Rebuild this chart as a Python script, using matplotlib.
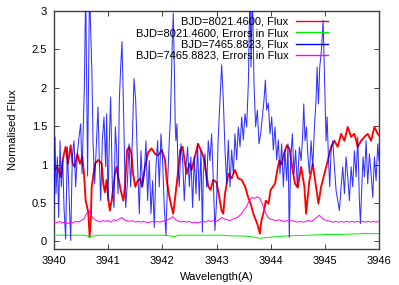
import matplotlib
matplotlib.use("Agg")
import matplotlib.pyplot as plt

# ---------------- data ----------------
red_wl = [3940.000, 3940.062, 3940.123, 3940.172, 3940.215, 3940.258, 3940.308, 3940.345,
          3940.382, 3940.431, 3940.480, 3940.523, 3940.554, 3940.585, 3940.615, 3940.634,
          3940.658, 3940.680, 3940.696, 3940.757, 3940.818, 3940.880, 3940.910, 3940.940,
          3940.970, 3941.000, 3941.030, 3941.065, 3941.095, 3941.126, 3941.157, 3941.187,
          3941.230, 3941.280, 3941.310, 3941.350, 3941.390, 3941.430, 3941.460, 3941.500,
          3941.530, 3941.590, 3941.620, 3941.680, 3941.740, 3941.800, 3941.865, 3941.925,
          3941.990, 3942.050, 3942.080, 3942.130, 3942.170, 3942.200, 3942.230, 3942.280,
          3942.330, 3942.375, 3942.420, 3942.450, 3942.500, 3942.540, 3942.600, 3942.660,
          3942.710, 3942.760, 3942.810, 3942.850, 3942.890, 3942.940, 3943.000, 3943.050,
          3943.095, 3943.125, 3943.157, 3943.220, 3943.280, 3943.340, 3943.400, 3943.465,
          3943.530, 3943.590, 3943.630, 3943.680, 3943.730, 3943.770, 3943.800, 3943.830,
          3943.877, 3943.910, 3943.960, 3944.000, 3944.040, 3944.080, 3944.120, 3944.160,
          3944.200, 3944.250, 3944.300, 3944.350, 3944.400, 3944.450, 3944.500, 3944.562,
          3944.623, 3944.654, 3944.715, 3944.777, 3944.838, 3944.882, 3944.931, 3944.992,
          3945.054, 3945.115, 3945.177, 3945.238, 3945.300, 3945.362, 3945.423, 3945.485,
          3945.546, 3945.608, 3945.669, 3945.731, 3945.792, 3945.854, 3945.915, 3945.977,
          3946.000]
red_flux = [0.92, 0.97, 0.84, 1.10, 1.23, 1.01, 1.25, 1.01,
            0.97, 1.14, 1.01, 1.10, 0.88, 0.53, 0.44, 0.36,
            0.06, 0.30, 0.71, 1.01, 1.06, 1.01, 0.75, 0.64,
            0.80, 0.58, 0.40, 0.53, 0.71, 0.88, 0.97, 0.84,
            0.67, 0.53, 0.71, 1.19, 1.23, 1.14, 0.88, 0.71,
            0.77, 0.82, 0.71, 0.97, 1.16, 1.21, 1.14, 1.12,
            1.19, 1.06, 0.80, 0.58, 0.45, 0.36, 0.53, 0.84,
            1.19, 1.23, 1.01, 0.88, 1.01, 0.93, 1.10, 1.27,
            1.19, 1.10, 0.88, 0.71, 0.67, 0.80, 0.77, 0.58,
            0.40, 0.36, 0.62, 0.88, 0.82, 0.93, 0.82, 0.80,
            0.71, 0.56, 0.49, 0.36, 0.27, 0.19, 0.10, 0.27,
            0.40, 0.53, 0.49, 0.67, 0.71, 0.75, 0.92, 1.05,
            1.00, 1.15, 1.25, 1.20, 0.95, 0.75, 0.70, 0.97,
            0.71, 0.36, 0.79, 1.01, 0.71, 0.49, 0.71, 0.88,
            1.05, 1.23, 1.31, 1.23, 1.40, 1.31, 1.49, 1.36,
            1.40, 1.23, 1.31, 1.36, 1.40, 1.31, 1.49, 1.40,
            1.38]

green_wl = [3940.00, 3940.20, 3940.40, 3940.55, 3940.62, 3940.66, 3940.72, 3940.85,
            3941.00, 3941.20, 3941.40, 3941.60, 3941.80, 3942.00, 3942.15, 3942.22,
            3942.30, 3942.50, 3942.70, 3942.90, 3943.10, 3943.30, 3943.50, 3943.65,
            3943.80, 3943.95, 3944.10, 3944.30, 3944.50, 3944.70, 3944.90, 3945.10,
            3945.30, 3945.50, 3945.70, 3945.90, 3946.00]
green_flux = [0.08, 0.08, 0.08, 0.08, 0.07, 0.05, 0.07, 0.08,
              0.08, 0.08, 0.08, 0.08, 0.08, 0.08, 0.07, 0.06,
              0.08, 0.08, 0.08, 0.08, 0.08, 0.07, 0.07, 0.06,
              0.04, 0.05, 0.06, 0.07, 0.075, 0.08, 0.085, 0.09,
              0.09, 0.095, 0.10, 0.10, 0.10]

blue_wl = [3940.000, 3940.018, 3940.037, 3940.062, 3940.086, 3940.111, 3940.135, 3940.160,
           3940.185, 3940.215, 3940.246, 3940.277, 3940.308, 3940.338, 3940.369, 3940.400,
           3940.431, 3940.462, 3940.492, 3940.517, 3940.542, 3940.560, 3940.585, 3940.620,
           3940.655, 3940.700, 3940.720, 3940.751, 3940.782, 3940.812, 3940.837, 3940.862,
           3940.892, 3940.923, 3940.954, 3940.972, 3940.997, 3941.028, 3941.046, 3941.077,
           3941.108, 3941.132, 3941.157, 3941.182, 3941.206, 3941.231, 3941.255, 3941.280,
           3941.305, 3941.323, 3941.354, 3941.385, 3941.415, 3941.446, 3941.477, 3941.508,
           3941.544, 3941.575, 3941.605, 3941.636, 3941.667, 3941.698, 3941.728, 3941.759,
           3941.790, 3941.821, 3941.851, 3941.882, 3941.913, 3941.944, 3941.975, 3942.005,
           3942.036, 3942.067, 3942.085, 3942.110, 3942.128, 3942.147, 3942.165, 3942.184,
           3942.202, 3942.221, 3942.239, 3942.251, 3942.270, 3942.288, 3942.313, 3942.344,
           3942.375, 3942.405, 3942.436, 3942.467, 3942.498, 3942.528, 3942.559, 3942.590,
           3942.621, 3942.651, 3942.682, 3942.713, 3942.740, 3942.756, 3942.787, 3942.818,
           3942.848, 3942.879, 3942.910, 3942.941, 3942.971, 3943.002, 3943.030, 3943.064,
           3943.095, 3943.126, 3943.157, 3943.188, 3943.218, 3943.249, 3943.280, 3943.311,
           3943.341, 3943.372, 3943.403, 3943.434, 3943.465, 3943.495, 3943.526, 3943.557,
           3943.588, 3943.618, 3943.637, 3943.661, 3943.692, 3943.723, 3943.754, 3943.785,
           3943.815, 3943.846, 3943.877, 3943.902, 3943.926, 3943.957, 3943.988, 3944.019,
           3944.049, 3944.080, 3944.111, 3944.141, 3944.172, 3944.203, 3944.234, 3944.264,
           3944.295, 3944.320, 3944.344, 3944.369, 3944.400, 3944.431, 3944.461, 3944.492,
           3944.531, 3944.562, 3944.592, 3944.611, 3944.635, 3944.660, 3944.685, 3944.715,
           3944.746, 3944.777, 3944.808, 3944.838, 3944.857, 3944.882, 3944.906, 3944.931,
           3944.949, 3944.968, 3944.986, 3945.005, 3945.023, 3945.042, 3945.066, 3945.091,
           3945.115, 3945.146, 3945.177, 3945.208, 3945.238, 3945.269, 3945.300, 3945.331,
           3945.362, 3945.392, 3945.423, 3945.454, 3945.485, 3945.515, 3945.546, 3945.577,
           3945.608, 3945.638, 3945.657, 3945.682, 3945.706, 3945.731, 3945.762, 3945.792,
           3945.823, 3945.854, 3945.885, 3945.915, 3945.946, 3945.977, 3946.000]
blue_flux = [0.44, 1.36, 0.62, 1.10, 0.31, 1.31, 0.71, 1.05,
             0.44, 0.03, 1.23, 0.62, 0.01, 1.10, 1.31, 0.71,
             1.14, 1.36, 1.53, 0.88, 1.55, 2.00, 3.30, 0.85,
             3.30, 2.19, 1.31, 0.75, 1.27, 1.75, 1.05, 0.53,
             1.31, 1.62, 0.97, 1.66, 0.53, 1.49, 1.88, 0.71,
             0.44, 1.49, 1.18, 0.62, 1.84, 2.27, 2.60, 1.84,
             0.97, 0.44, 0.75, 1.27, 0.71, 1.31, 2.12, 1.84,
             0.97, 0.36, 1.18, 0.71, 0.88, 1.31, 0.53, 1.05,
             0.36, 0.79, 0.18, 0.97, 1.31, 0.71, 1.40, 1.05,
             0.44, 0.08, 0.53, 0.97, 1.31, 1.57, 2.05, 2.62,
             2.97, 2.27, 1.49, 1.31, 1.53, 0.97, 0.71, 1.27,
             1.05, 0.53, 0.97, 1.23, 0.71, 1.10, 0.44, 1.10,
             0.62, 1.27, 0.53, 1.18, 0.12, 0.88, 1.14, 0.71,
             1.31, 1.05, 1.40, 0.79, 0.14, 0.53, 1.32, 1.84,
             2.30, 1.84, 1.19, 0.75, 1.32, 0.71, 1.19, 0.88,
             1.40, 1.06, 1.49, 1.23, 1.62, 1.32, 1.66, 1.49,
             2.06, 3.30, 2.27, 3.30, 2.06, 1.49, 1.71, 1.27,
             1.40, 1.62, 1.84, 2.10, 1.71, 1.80, 1.40, 1.62,
             1.19, 1.49, 1.06, 1.32, 0.88, 1.27, 0.71, 1.19,
             0.79, 1.27, 0.05, 1.06, 1.40, 0.88, 1.19, 0.71,
             1.23, 1.05, 1.40, 1.79, 1.31, 1.49, 1.14, 0.88,
             1.31, 0.97, 1.49, 1.84, 2.27, 1.79, 2.27, 2.44,
             2.62, 2.88, 2.36, 1.84, 1.31, 1.62, 1.10, 0.71,
             1.18, 1.31, 0.97, 0.66, 0.53, 0.40, 0.71, 0.97,
             0.62, 1.10, 0.84, 0.53, 0.97, 0.71, 1.18, 0.84,
             1.36, 0.53, 0.23, 0.71, 1.10, 0.84, 1.31, 0.75,
             1.14, 0.88, 0.57, 1.10, 0.79, 1.27, 1.05]

mag_wl = [3940.00, 3940.05, 3940.10, 3940.15, 3940.20, 3940.25, 3940.30, 3940.35,
          3940.40, 3940.45, 3940.50, 3940.55, 3940.60, 3940.64, 3940.68, 3940.72,
          3940.76, 3940.80, 3940.85, 3940.90, 3940.95, 3941.00, 3941.05, 3941.10,
          3941.15, 3941.20, 3941.25, 3941.30, 3941.35, 3941.40, 3941.45, 3941.50,
          3941.55, 3941.60, 3941.65, 3941.70, 3941.75, 3941.80, 3941.85, 3941.90,
          3941.95, 3942.00, 3942.05, 3942.10, 3942.15, 3942.20, 3942.25, 3942.30,
          3942.35, 3942.40, 3942.45, 3942.50, 3942.55, 3942.60, 3942.65, 3942.70,
          3942.75, 3942.80, 3942.85, 3942.90, 3942.95, 3943.00, 3943.05, 3943.10,
          3943.15, 3943.20, 3943.25, 3943.30, 3943.35, 3943.40, 3943.45, 3943.50,
          3943.55, 3943.60, 3943.65, 3943.70, 3943.75, 3943.80, 3943.85, 3943.90,
          3943.95, 3944.00, 3944.05, 3944.10, 3944.15, 3944.20, 3944.25, 3944.30,
          3944.35, 3944.40, 3944.45, 3944.50, 3944.55, 3944.60, 3944.65, 3944.70,
          3944.75, 3944.80, 3944.85, 3944.90, 3944.95, 3945.00, 3945.05, 3945.10,
          3945.15, 3945.20, 3945.25, 3945.30, 3945.35, 3945.40, 3945.45, 3945.50,
          3945.55, 3945.60, 3945.65, 3945.70, 3945.75, 3945.80, 3945.85, 3945.90,
          3945.95, 3946.00]
mag_flux = [0.25, 0.24, 0.26, 0.24, 0.25, 0.23, 0.25, 0.24,
            0.26, 0.25, 0.27, 0.29, 0.36, 0.41, 0.35, 0.30,
            0.28, 0.27, 0.25, 0.27, 0.26, 0.27, 0.25, 0.28,
            0.27, 0.29, 0.31, 0.28, 0.27, 0.26, 0.27, 0.25,
            0.26, 0.25, 0.26, 0.25, 0.24, 0.26, 0.25, 0.26,
            0.25, 0.26, 0.27, 0.28, 0.30, 0.32, 0.28, 0.26,
            0.25, 0.26, 0.25, 0.26, 0.24, 0.25, 0.24, 0.25,
            0.26, 0.25, 0.27, 0.26, 0.27, 0.26, 0.28, 0.31,
            0.29, 0.28, 0.27, 0.29, 0.30, 0.32, 0.35, 0.40,
            0.45, 0.52, 0.57, 0.56, 0.58, 0.56, 0.48, 0.38,
            0.31, 0.29, 0.28, 0.27, 0.28, 0.27, 0.26, 0.27,
            0.26, 0.27, 0.26, 0.25, 0.26, 0.25, 0.26, 0.27,
            0.26, 0.28, 0.31, 0.34, 0.30, 0.28, 0.27, 0.26,
            0.25, 0.26, 0.25, 0.26, 0.25, 0.26, 0.25, 0.26,
            0.25, 0.26, 0.25, 0.26, 0.25, 0.26, 0.25, 0.26,
            0.25, 0.26]

labels = ["BJD=8021.4600, Flux", "BJD=8021.4600, Errors in Flux",
          "BJD=7465.8823, Flux", "BJD=7465.8823, Errors in Flux"]
x_ticks = [3940, 3941, 3942, 3943, 3944, 3945, 3946]
y_ticks = [0, 0.5, 1, 1.5, 2, 2.5, 3]

# ---------------- figure ----------------
plt.rcParams['font.family'] = ['Liberation Sans', 'DejaVu Sans']
fs = 8
fig = plt.figure(figsize=(3.99, 2.85), dpi=100)
ax = fig.add_axes([54/399, 1 - 249/285, 325/399, 238/285])

ax.plot(red_wl, red_flux, color='#ff0000', lw=1.35, label=labels[0], zorder=2)
ax.plot(green_wl, green_flux, color='#00ee00', lw=0.7, label=labels[1], zorder=3)
ax.plot(blue_wl, blue_flux, color='#0000ff', lw=0.75, alpha=0.8, label=labels[2], zorder=4)
ax.plot(mag_wl, mag_flux, color='#ff00ff', lw=0.7, label=labels[3], zorder=5)

ax.set_xlim(3940, 3946)
ax.set_ylim(-0.1, 3)
ax.set_xticks(x_ticks)
ax.set_xticklabels([str(v) for v in x_ticks])
ax.set_yticks(y_ticks)
ax.set_yticklabels(['0', '0.5', '1', '1.5', '2', '2.5', '3'])

frame_col = '#404040'
for s in ax.spines.values():
    s.set_color(frame_col)
    s.set_linewidth(1.0)
ax.tick_params(direction='in', top=True, right=True, length=3.5, width=0.7,
               color=frame_col, labelsize=fs, labelcolor='black')
ax.tick_params(axis='x', pad=5)
ax.tick_params(axis='y', pad=5)

ax.set_xlabel('Wavelength(A)', fontsize=fs, labelpad=4)
ax.set_ylabel('Normalised Flux', fontsize=fs, labelpad=10)

leg = ax.legend(loc='upper right', bbox_to_anchor=(0.843, 0.975), frameon=False,
                markerfirst=False, fontsize=fs, handlelength=2.9, handletextpad=0.65,
                labelspacing=0.12, borderpad=0, borderaxespad=0)
for line in leg.get_lines():
    line.set_linewidth(1.0)
    line.set_alpha(1)

fig.savefig('out.png', dpi=100)
